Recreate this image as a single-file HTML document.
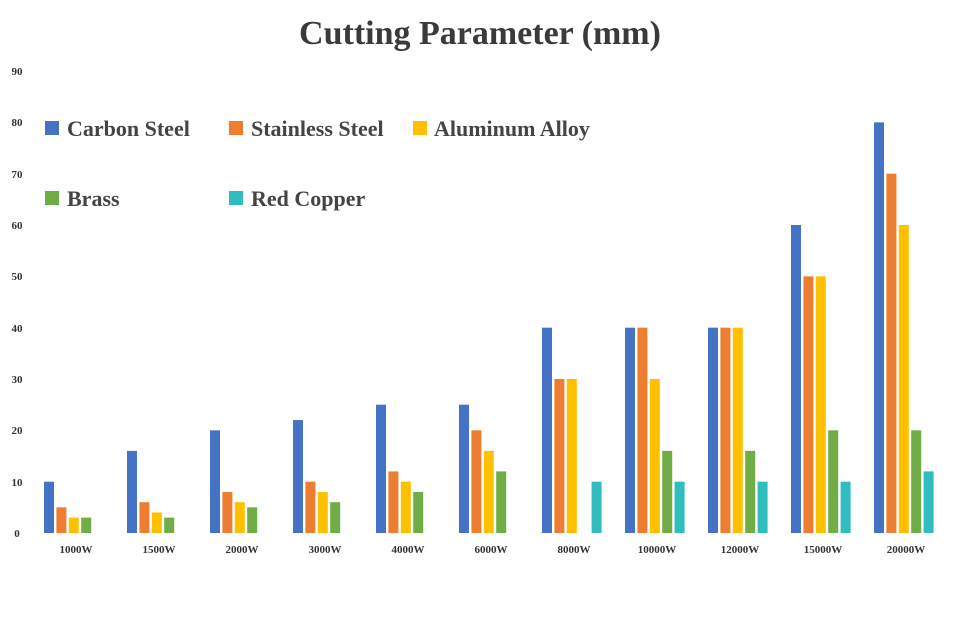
<!DOCTYPE html>
<html><head><meta charset="utf-8"><style>
body{margin:0;background:#fff}
svg{display:block;font-family:"Liberation Serif",serif;font-weight:bold}
</style></head><body>
<svg width="960" height="619" viewBox="0 0 960 619" xmlns="http://www.w3.org/2000/svg">
<rect width="960" height="619" fill="#fff"/>
<text x="480" y="44" text-anchor="middle" font-size="34" fill="#3a3a3a">Cutting Parameter (mm)</text>
<g font-size="11" fill="#333" text-anchor="middle">
<text x="17" y="537">0</text><text x="17" y="486">10</text><text x="17" y="434">20</text>
<text x="17" y="383">30</text><text x="17" y="332">40</text><text x="17" y="280">50</text>
<text x="17" y="229">60</text><text x="17" y="178">70</text><text x="17" y="126">80</text>
<text x="17" y="75">90</text>
</g>
<g font-size="22" fill="#444">
<rect x="45" y="121" width="14" height="14" fill="#4472C4"/><text x="67" y="136">Carbon Steel</text>
<rect x="229" y="121" width="14" height="14" fill="#ED7D31"/><text x="251" y="136">Stainless Steel</text>
<rect x="413" y="121" width="14" height="14" fill="#FFC000"/><text x="434" y="136">Aluminum Alloy</text>
<rect x="45" y="191" width="14" height="14" fill="#70AD47"/><text x="67" y="206">Brass</text>
<rect x="229" y="191" width="14" height="14" fill="#2FBDBD"/><text x="251" y="206">Red Copper</text>
</g>
<g id="bars"></g>
<g id="labels" font-size="11" fill="#333" text-anchor="middle"></g>
<script>
var d=[["1000W",10,5,3,3,0],["1500W",16,6,4,3,0],["2000W",20,8,6,5,0],["3000W",22,10,8,6,0],["4000W",25,12,10,8,0],["6000W",25,20,16,12,0],["8000W",40,30,30,0,10],["10000W",40,40,30,16,10],["12000W",40,40,40,16,10],["15000W",60,50,50,20,10],["20000W",80,70,60,20,12]];
var c=["#4472C4","#ED7D31","#FFC000","#70AD47","#2FBDBD"];
var ns="http://www.w3.org/2000/svg",b=document.getElementById("bars"),l=document.getElementById("labels");
d.forEach(function(g,i){var x0=44+i*83;
for(var k=0;k<5;k++){var v=g[k+1];if(!v)continue;var h=v*5.133;
var r=document.createElementNS(ns,"rect");r.setAttribute("x",x0+k*12.4);r.setAttribute("y",533-h);r.setAttribute("width",10);r.setAttribute("height",h);r.setAttribute("fill",c[k]);b.appendChild(r);}
var t=document.createElementNS(ns,"text");t.setAttribute("x",x0+32);t.setAttribute("y",553);t.textContent=g[0];l.appendChild(t);});
</script>
</svg>
</body></html>
